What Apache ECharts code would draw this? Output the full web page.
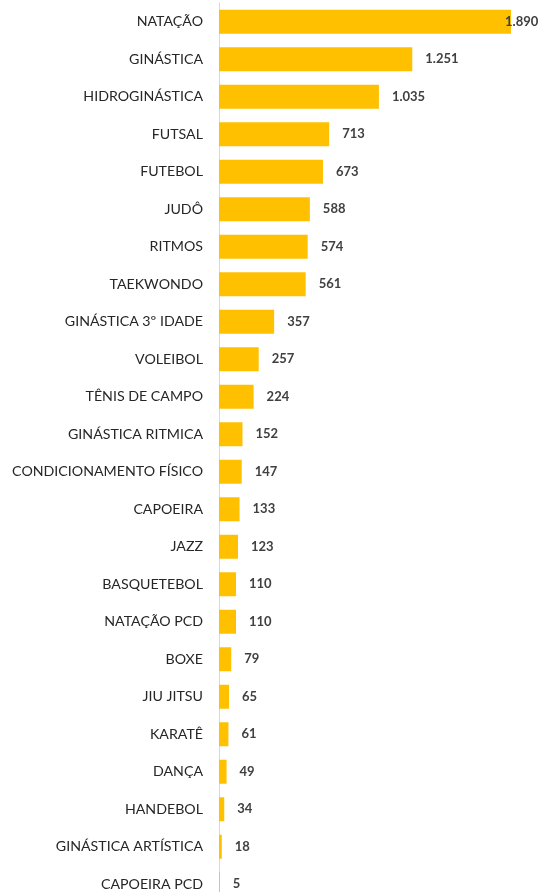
<!DOCTYPE html>
<html>
<head>
<meta charset="utf-8">
<script src="https://cdn.jsdelivr.net/npm/echarts@6/dist/echarts.min.js"></script>
<style>
  html, body { margin: 0; padding: 0; background: #fff; }
  #chart { width: 544px; height: 892px; }
</style>
</head>
<body>
<div id="chart"></div>
<script>
const modalidades = ['NATAÇÃO', 'GINÁSTICA', 'HIDROGINÁSTICA', 'FUTSAL', 'FUTEBOL', 'JUDÔ', 'RITMOS',
  'TAEKWONDO', 'GINÁSTICA 3º IDADE', 'VOLEIBOL', 'TÊNIS DE CAMPO', 'GINÁSTICA RITMICA',
  'CONDICIONAMENTO FÍSICO', 'CAPOEIRA', 'JAZZ', 'BASQUETEBOL', 'NATAÇÃO PCD', 'BOXE',
  'JIU JITSU', 'KARATÊ', 'DANÇA', 'HANDEBOL', 'GINÁSTICA ARTÍSTICA', 'CAPOEIRA PCD']
const alunos = [1890, 1251, 1035, 713, 673, 588, 574, 561, 357, 257, 224, 152, 147, 133, 123,
  110, 110, 79, 65, 61, 49, 34, 18, 5]

// formato pt-BR: 1.890
function fmt(v) {
  return String(v).replace(/\B(?=(\d{3})+(?!\d))/g, '.')
}

let chart = echarts.init(document.getElementById('chart'))
let dados = alunos.map(function (v, i) {
  let item = { value: v }
  // primeiro rótulo encostado na barra (não cabe à direita)
  if (i === 0) item.label = { offset: [-19, 0] }
  return item
})

let option = {
  animation: false,
  grid: { left: 219, top: 3, width: 309, height: 900, containLabel: false, outerBoundsMode: 'none' },
  xAxis: {
    type: 'value', min: 0, max: 2000, show: false
  },
  yAxis: {
    type: 'category',
    inverse: true,
    data: modalidades,
    axisTick: { show: false },
    axisLine: { lineStyle: { color: '#d9d9d9', width: 1 } },
    axisLabel: {
      margin: 16,
      color: '#262626',
      fontFamily: 'Lato',
      fontSize: 14.2
    }
  },
  series: [
    {
      type: 'bar',
      data: dados,
      barWidth: 24,
      itemStyle: { color: '#ffc000' },
      label: {
        show: true,
        position: 'right',
        distance: 13,
        color: '#404040',
        fontWeight: 'bold',
        fontFamily: 'Lato',
        fontSize: 13,
        formatter: function (p) { return fmt(p.value) }
      }
    }
  ]
}
chart.setOption(option)
</script>
</body>
</html>
